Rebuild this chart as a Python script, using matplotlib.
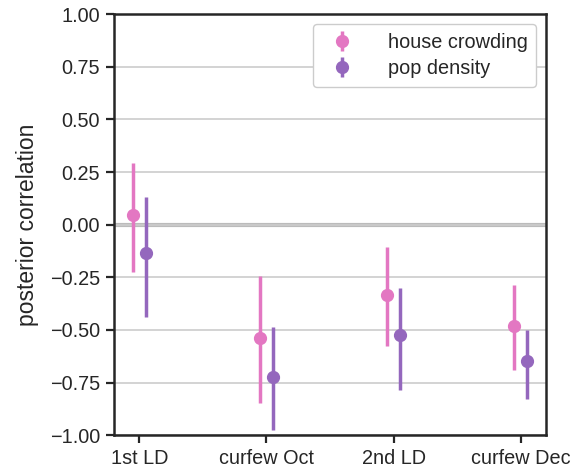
import matplotlib
matplotlib.use("Agg")
import matplotlib.pyplot as plt
import numpy as np

categories = ["1st LD", "curfew Oct", "2nd LD", "curfew Dec"]
series = ["house crowding", "pop density"]
colors = ["#e377c2", "#9467bd"]
house_mean = [0.046, -0.538, -0.333, -0.48]
house_low = [-0.226, -0.849, -0.578, -0.69]
house_high = [0.291, -0.242, -0.108, -0.287]
pop_mean = [-0.133, -0.722, -0.524, -0.648]
pop_low = [-0.44, -0.975, -0.786, -0.829]
pop_high = [0.13, -0.488, -0.302, -0.50]

plt.rcParams['font.family'] = ['Liberation Sans', 'DejaVu Sans']
fig = plt.figure(figsize=(5.75, 4.73), dpi=100)
ax = fig.add_axes([0.198, 0.080, 0.752, 0.890])

x = np.arange(len(categories))
means = [house_mean, pop_mean]
lows = [house_low, pop_low]
highs = [house_high, pop_high]
offsets = [-0.05, 0.05]
for s, c, m, lo, hi, off in zip(series, colors, means, lows, highs, offsets):
    m = np.array(m); lo = np.array(lo); hi = np.array(hi)
    ax.errorbar(x + off, m, yerr=[m - lo, hi - m], fmt='o', color=c,
                markersize=8.5, elinewidth=2.5, capsize=0, label=s, zorder=3)

yt = np.arange(-1, 1.01, 0.25)
ax.set_yticks(yt)
ax.set_yticklabels([f"{v:.2f}".replace("-", "\u2212") for v in yt])
ax.set_ylim(-1, 1)
ax.set_xlim(-0.2, 3.2)
ax.set_xticks(x)
ax.set_xticklabels(categories)
ax.yaxis.grid(True, color="#cccccc", linewidth=1.2, zorder=0)
ax.axhline(0, color="#bbbbbb", linewidth=3, zorder=1)
ax.set_ylabel("posterior correlation", fontsize=16.5, color="#262626", labelpad=8)
ax.tick_params(axis='both', labelsize=14.3, length=6, width=1.6, color="#262626",
               labelcolor="#262626", direction='out', pad=4)
for sp in ax.spines.values():
    sp.set_color("#262626")
    sp.set_linewidth(1.8)
leg = ax.legend(loc="upper right", fontsize=14.3, handletextpad=1.3, borderpad=0.45,
                labelspacing=0.35, framealpha=1, edgecolor="#cccccc",
                borderaxespad=0.5)
for t in leg.get_texts():
    t.set_color("#262626")
fig.savefig("out.png", dpi=100)
